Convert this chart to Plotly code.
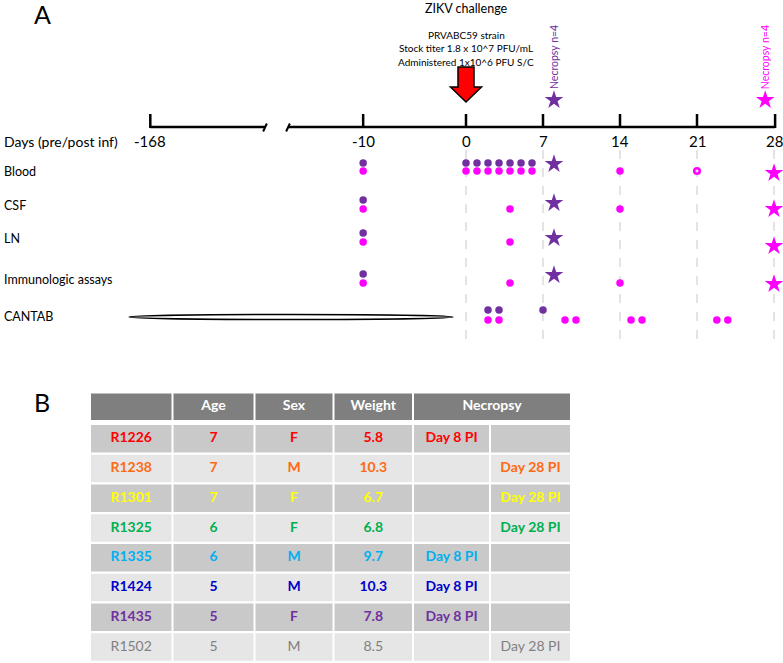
import numpy as np
import plotly.graph_objects as go

# ---------------- Panel A data ----------------
tick_days = [-168, -10, 0, 7, 14, 21, 28]
tick_labels = ["-168", "-10", "0", "7", "14", "21", "28"]
grid_days = [0, 7, 14, 21, 28]
row_labels = ["Blood", "CSF", "LN", "Immunologic assays", "CANTAB"]

blood_purple = [-10, 0, 1, 2, 3, 4, 5, 6]
blood_magenta = [-10, 0, 1, 2, 3, 4, 5, 6, 14]
blood_magenta_open = [21]
csf_purple = [-10]
csf_magenta = [-10, 4, 14]
ln_purple = [-10]
ln_magenta = [-10, 4]
immuno_purple = [-10]
immuno_magenta = [-10, 4, 14]
cantab_purple = [2, 3, 7]
cantab_magenta = [2, 3, 9, 10, 15, 16, 22.8, 23.8]
necropsy_early_day = 8
necropsy_late_day = 28
necropsy_header_days = [8, 27.2]
necropsy_header_text = ["Necropsy n=4", "Necropsy n=4"]
challenge_day = 0
challenge_title = "ZIKV challenge"
challenge_details = ["PRVABC59 strain", "Stock titer 1.8 x 10^7 PFU/mL",
                     "Administered 1x10^6 PFU S/C"]

# ---------------- Panel B data ----------------
table_header = ["", "Age", "Sex", "Weight", "Necropsy"]
animal_ids = ["R1226", "R1238", "R1301", "R1325", "R1335", "R1424", "R1435", "R1502"]
ages = [7, 7, 7, 6, 6, 5, 5, 5]
sexes = ["F", "M", "F", "F", "M", "M", "F", "M"]
weights = ["5.8", "10.3", "6.7", "6.8", "9.7", "10.3", "7.8", "8.5"]
necropsy_day8 = ["Day 8 PI", "", "", "", "Day 8 PI", "Day 8 PI", "Day 8 PI", ""]
necropsy_day28 = ["", "Day 28 PI", "Day 28 PI", "Day 28 PI", "", "", "", "Day 28 PI"]
animal_colors = ["#ff0000", "#ff6a13", "#ffff00", "#00b050", "#00b0f0",
                 "#0000cc", "#7030a0", "#808080"]
animal_bold = [True, True, True, True, True, True, True, False]

# ---------------- styling / layout constants ----------------
W, H = 783, 663
DAY0_PX, PX_PER_DAY = 466.0, 11.0
PRE_DAYS = [-168, -10, 0]          # broken-axis anchors
PRE_POS = [-28.7, -9.35, 0.0]
PURPLE = "#7030a0"
MAGENTA = "#ff00ff"
FONT = "Lato"

AXIS_Y = 127
TICK_TOP = 114
TICKLABEL_Y = 141
row_label_y = [171, 205, 238, 279, 316]
row_purple_y = [163, 200, 233, 274, 310]
row_magenta_y = [171, 209, 242, 283, 320]
star_purple_y = [164, 203, 238, 275]
star_magenta_y = [173, 209, 246, 284]


def xpos(days):
    d = np.asarray(days, dtype=float)
    return np.where(d < 0, np.interp(d, PRE_DAYS, PRE_POS), d)


def px_to_day(px):
    return (px - DAY0_PX) / PX_PER_DAY


fig = go.Figure()
shapes = []
ann = []

# dashed guide lines
for d in grid_days:
    shapes.append(dict(type="line", xref="x", yref="y", x0=float(xpos(d)), x1=float(xpos(d)),
                       y0=150, y1=340, line=dict(color="#c8c8c8", width=1, dash="dash"),
                       layer="below"))

# axis line with break
brk0, brk1 = px_to_day(265), px_to_day(288)
axis_end = float(xpos(tick_days[-1])) + 0.1
shapes.append(dict(type="line", xref="x", yref="y", x0=float(xpos(tick_days[0])), x1=brk0,
                   y0=AXIS_Y, y1=AXIS_Y, line=dict(color="black", width=2.5)))
shapes.append(dict(type="line", xref="x", yref="y", x0=brk1, x1=axis_end,
                   y0=AXIS_Y, y1=AXIS_Y, line=dict(color="black", width=2.5)))
for b in (brk0, brk1):
    shapes.append(dict(type="line", xref="x", yref="y", x0=b - 0.17, x1=b + 0.17,
                       y0=AXIS_Y + 4.5, y1=AXIS_Y - 3.5, line=dict(color="black", width=2)))
for d, lab in zip(tick_days, tick_labels):
    x = float(xpos(d))
    if d == tick_days[-1]:
        x = axis_end
    shapes.append(dict(type="line", xref="x", yref="y", x0=x, x1=x,
                       y0=TICK_TOP, y1=AXIS_Y + 1, line=dict(color="black", width=2.5)))
    ann.append(dict(x=float(xpos(d)), y=TICKLABEL_Y, xref="x", yref="y", text=lab,
                    showarrow=False, font=dict(family=FONT, size=15, color="black")))

ann.append(dict(x=2, y=TICKLABEL_Y, xref="x2", yref="y", text="Days (pre/post inf)",
                showarrow=False, xanchor="left", font=dict(family=FONT, size=14, color="black")))
for lab, y in zip(row_labels, row_label_y):
    ann.append(dict(x=2, y=y, xref="x2", yref="y", text=lab, showarrow=False,
                    xanchor="left", font=dict(family=FONT, size=12.5, color="black")))

# CANTAB pre-infection ellipse
shapes.append(dict(type="circle", xref="x2", yref="y", x0=129, x1=453, y0=314.5, y1=319.5,
                   line=dict(color="black", width=1.6), fillcolor="white"))

# challenge arrow
cx = float(xpos(challenge_day))
hw_shaft, hw_head = 8 / PX_PER_DAY, 15.5 / PX_PER_DAY
path = (f"M {cx-hw_shaft},67 L {cx+hw_shaft},67 L {cx+hw_shaft},87 L {cx+hw_head},87 "
        f"L {cx},102 L {cx-hw_head},87 L {cx-hw_shaft},87 Z")
shapes.append(dict(type="path", xref="x", yref="y", path=path, fillcolor="#ff0000",
                   line=dict(color="black", width=1.5)))
ann.append(dict(x=cx, y=8, xref="x", yref="y", text=challenge_title, showarrow=False,
                font=dict(family=FONT, size=12.5, color="black")))
for i, t in enumerate(challenge_details):
    ann.append(dict(x=cx, y=34.5 + i * 13.5, xref="x", yref="y", text=t, showarrow=False,
                    font=dict(family=FONT, size=10, color="black")))

# necropsy header markers
for d, t, c in zip(necropsy_header_days, necropsy_header_text, [PURPLE, MAGENTA]):
    ann.append(dict(x=float(xpos(d)), y=57, xref="x", yref="y", text=t, textangle=-90,
                    showarrow=False, font=dict(family=FONT, size=10.5, color=c)))
fig.add_trace(go.Scatter(x=xpos(necropsy_header_days), y=[100, 100], mode="markers",
                         marker=dict(symbol="star", size=14, color=[PURPLE, MAGENTA]),
                         hoverinfo="skip"))

# panel A points
purple_rows = [blood_purple, csf_purple, ln_purple, immuno_purple, cantab_purple]
magenta_rows = [blood_magenta, csf_magenta, ln_magenta, immuno_magenta, cantab_magenta]
for days, y in zip(purple_rows, row_purple_y):
    fig.add_trace(go.Scatter(x=xpos(days), y=[y] * len(days), mode="markers",
                             marker=dict(size=7.5, color=PURPLE), hoverinfo="skip"))
for days, y in zip(magenta_rows, row_magenta_y):
    fig.add_trace(go.Scatter(x=xpos(days), y=[y] * len(days), mode="markers",
                             marker=dict(size=7.5, color=MAGENTA), hoverinfo="skip"))
fig.add_trace(go.Scatter(x=xpos(blood_magenta_open), y=[row_magenta_y[0]], mode="markers",
                         marker=dict(symbol="circle-open", size=5.5, color=MAGENTA,
                                     line=dict(width=2.6, color=MAGENTA)), hoverinfo="skip"))
fig.add_trace(go.Scatter(x=xpos([necropsy_early_day] * 4), y=star_purple_y, mode="markers",
                         marker=dict(symbol="star", size=14, color=PURPLE), hoverinfo="skip"))
fig.add_trace(go.Scatter(x=xpos([necropsy_late_day] * 4), y=star_magenta_y, mode="markers",
                         marker=dict(symbol="star", size=14, color=MAGENTA), hoverinfo="skip"))

ann.append(dict(x=42, y=14, xref="x2", yref="y", text="A", showarrow=False,
                font=dict(family=FONT, size=25, color="black")))
ann.append(dict(x=42, y=402, xref="x2", yref="y", text="B", showarrow=False,
                font=dict(family=FONT, size=25, color="black")))

# ---------------- Panel B table ----------------
col_x0 = [91, 173.5, 255.5, 334.5, 414, 491]
col_x1 = [171.5, 253.5, 332.5, 412, 489, 570]
HEAD_Y0, HEAD_Y1 = 393.5, 420
BODY_TOP, ROW_PITCH, ROW_H = 425, 29.75, 27.6
HEAD_FILL, DARK_FILL, LIGHT_FILL = "#7f7f7f", "#c9c9c9", "#e6e6e6"

# header cells (necropsy header spans the last two columns)
head_spans = [(0, 0), (1, 1), (2, 2), (3, 3), (4, 5)]
for (a, b), txt in zip(head_spans, table_header):
    shapes.append(dict(type="rect", xref="x2", yref="y", x0=col_x0[a], x1=col_x1[b],
                       y0=HEAD_Y0, y1=HEAD_Y1, fillcolor=HEAD_FILL, line=dict(width=0),
                       layer="below"))
head_x = [(col_x0[a] + col_x1[b]) / 2 for a, b in head_spans]
fig.add_trace(go.Scatter(x=head_x, y=[(HEAD_Y0 + HEAD_Y1) / 2] * len(head_x),
                         xaxis="x2", mode="text",
                         text=[f"<b>{t}</b>" if t else "" for t in table_header],
                         textfont=dict(family=FONT, size=14, color="white"),
                         hoverinfo="skip"))

cols = [animal_ids, [str(a) for a in ages], sexes, weights, necropsy_day8, necropsy_day28]
tx, ty, tt, tc = [], [], [], []
for r in range(len(animal_ids)):
    y0 = BODY_TOP + r * ROW_PITCH
    y1 = y0 + ROW_H
    fill = DARK_FILL if r % 2 == 0 else LIGHT_FILL
    for c in range(len(cols)):
        shapes.append(dict(type="rect", xref="x2", yref="y", x0=col_x0[c], x1=col_x1[c],
                           y0=y0, y1=y1, fillcolor=fill, line=dict(width=0), layer="below"))
        txt = cols[c][r]
        if txt:
            tx.append((col_x0[c] + col_x1[c]) / 2)
            ty.append((y0 + y1) / 2)
            tt.append(f"<b>{txt}</b>" if animal_bold[r] else txt)
            tc.append(animal_colors[r])
fig.add_trace(go.Scatter(x=tx, y=ty, xaxis="x2", mode="text", text=tt,
                         textfont=dict(family=FONT, size=14, color=tc), hoverinfo="skip"))

fig.update_layout(
    width=W, height=H, margin=dict(l=0, r=0, t=0, b=0),
    paper_bgcolor="white", plot_bgcolor="white", showlegend=False,
    xaxis=dict(range=[-DAY0_PX / PX_PER_DAY, (W - DAY0_PX) / PX_PER_DAY], visible=False,
               domain=[0, 1], fixedrange=True),
    xaxis2=dict(range=[0, W], visible=False, overlaying="x", domain=[0, 1], fixedrange=True),
    yaxis=dict(range=[H, 0], visible=False, domain=[0, 1], fixedrange=True),
    shapes=shapes, annotations=ann,
)

fig.write_html("out.html", config={"displayModeBar": False},
               post_script="document.body.style.margin='0';document.body.style.overflow='hidden';")
